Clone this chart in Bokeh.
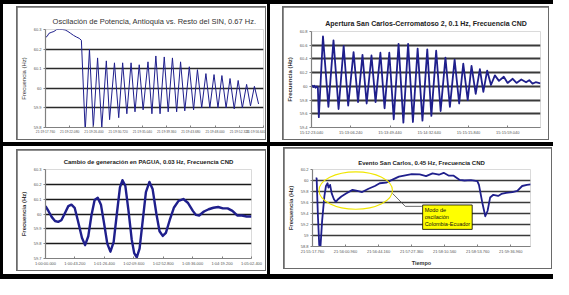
from bokeh.plotting import figure
from bokeh.layouts import row, column
from bokeh.models import Range1d, FixedTicker, Label, Spacer, AllLabels
from bokeh.embed import file_html
from bokeh.resources import INLINE

FONT = "Liberation Sans"
BLUE = "#1f1f8c"

# ---------------- Panel 1 ----------------
P1_TITLE = "Oscilación de Potencia, Antioquia vs. Resto del SIN, 0.67 Hz."
P1_T = [0, 0.3, 0.6, 1.0, 1.5, 2.0, 2.5, 3.0, 3.5, 4.0, 4.5, 5.0, 5.5, 6.0, 6.4,
        7.08, 7.84, 8.53, 9.29, 10.04, 10.85, 11.43, 12.30, 13.06, 13.76,
        14.51, 15.26, 15.96, 16.72, 17.41, 18.28, 18.98, 19.68, 20.43, 21.18,
        21.88, 22.64, 23.39, 24.09, 24.84, 25.65, 26.41, 27.10, 27.86, 28.61,
        29.31, 30.06, 30.76, 31.46, 32.21, 32.91, 33.66, 34.36, 35.11, 35.87,
        36.56, 37.26, 38.0]
P1_F = [60.26, 60.265, 60.28, 60.285, 60.29, 60.30, 60.30, 60.30, 60.298, 60.29, 60.28, 60.27, 60.262, 60.255, 60.245,
        59.78, 60.20, 59.80, 60.155, 59.80, 60.14, 59.84, 60.13, 59.85, 60.13,
        59.87, 60.13, 59.88, 60.12, 59.89, 60.135, 59.87, 60.165, 59.87, 60.16,
        59.88, 60.155, 59.88, 60.135, 59.885, 60.11, 59.89, 60.095, 59.9, 60.075,
        59.9, 60.07, 59.9, 60.065, 59.9, 60.05, 59.895, 60.04, 59.9, 60.02,
        59.91, 60.01, 59.92]
P1_XTICKS = [0, 4.32, 8.64, 12.96, 17.28, 21.6, 25.92, 30.24, 34.56, 38.88]
P1_XLABELS = ["21:19:17.760", "21:19:22.080", "21:19:26.400", "21:19:30.720", "21:19:35.040",
              "21:19:39.360", "21:19:43.680", "21:19:48.000", "21:19:52.320", "21:19:56.640"]
P1_YTICKS = [59.8, 59.9, 60.0, 60.1, 60.2, 60.3]
P1_YLABELS = ["59.8", "59.9", "60", "60.1", "60.2", "60.3"]

# ---------------- Panel 2 ----------------
P2_TITLE = "Apertura San Carlos-Cerromatoso 2, 0.1 Hz, Frecuencia CND"
P2_T = [0, 1.05, 2.1, 3.16, 4.56, 5.96, 7.0, 8.07, 12.63, 18.6, 24.2, 29.8, 35.4, 40.35,
        46.3, 51.2, 56.1, 60.7, 66.0, 70.5, 75.8, 80.4, 85.6, 90.5, 95.8, 101.1, 106.3,
        111.6, 116.8, 122.1, 127.4, 131.9, 137.2, 142.1, 147.4, 152.3, 157.5, 162.5,
        167.0, 171.9, 176.1, 180.7, 185.3, 189.1, 193.3, 197.5, 201.8, 206.3, 211.6,
        215.8, 221.4, 225.6, 230.9, 236.1, 239.6, 243.2, 246.7, 251.9]
P2_F = [60.0, 60.01, 59.99, 60.01, 59.98, 60.0, 59.98, 59.55, 60.73, 59.70, 60.67, 59.67, 60.59, 59.72,
        60.50, 59.77, 60.46, 59.75, 60.45, 59.77, 60.49, 59.68, 60.49, 59.52, 60.62, 59.47, 60.62,
        59.48, 60.55, 59.50, 60.54, 59.57, 60.52, 59.64, 60.42, 59.70, 60.39, 59.75,
        60.33, 59.80, 60.30, 59.89, 60.25, 59.92, 60.23, 60.02, 60.16, 60.08, 60.14,
        60.05, 60.11, 60.05, 60.10, 60.06, 60.09, 60.04, 60.06, 60.045]
P2_XTICKS = [0, 43.2, 86.4, 129.6, 172.8, 216.0]
P2_XLABELS = ["15:12:23.040", "15:13:06.240", "15:13:49.440", "15:14:32.640", "15:15:15.840", "15:15:59.040"]
P2_YTICKS = [59.4, 59.6, 59.8, 60.0, 60.2, 60.4, 60.6, 60.8]
P2_YLABELS = ["59.4", "59.6", "59.8", "60", "60.2", "60.4", "60.6", "60.8"]

# ---------------- Panel 3 ----------------
P3_TITLE = "Cambio de generación en PAGUA, 0.03 Hz, Frecuencia CND"
P3_T = [0, 4.65, 9.3, 14.0, 18.6, 23.3, 27.9, 33.5, 38.1, 42.8, 47.4, 53.5, 58.1, 62.8,
        67.4, 72.1, 76.7, 81.4, 86.0, 90.7, 95.3, 100.0, 104.7, 109.3, 113.0, 117.2,
        121.9, 126.5, 130.2, 134.0, 138.1, 142.8, 147.4, 152.6, 157.2, 162.8, 167.4,
        172.1, 176.7, 182.3, 188.4, 195.3, 202.3, 209.3, 216.3, 220.9, 225.6, 232.6,
        239.5, 246.5, 253.5, 260.5, 267.4, 274.4, 281.4, 288.4, 295.3, 302.3]
P3_F = [60.053, 60.017, 59.979, 59.953, 59.947, 59.958, 60.0, 60.053, 60.063, 60.042, 59.958, 59.84, 59.79, 59.85,
        59.99, 60.095, 60.11, 60.063, 59.937, 59.80, 59.746, 59.81, 60.0, 60.18, 60.228, 60.19,
        60.02, 59.83, 59.736, 59.708, 59.767, 59.958, 60.148, 60.216, 60.169, 60.0, 59.884,
        59.852, 59.873, 59.958, 60.042, 60.089, 60.101, 60.074, 60.021, 59.994, 59.99, 60.017,
        60.032, 60.042, 60.047, 60.038, 60.038, 60.021, 59.99, 59.99, 59.983, 59.983]
P3_XTICKS = [0, 43.2, 86.4, 129.6, 172.8, 216.0, 259.2, 302.4]
P3_XLABELS = ["1:00:00.000", "1:00:43.200", "1:01:26.400", "1:02:09.600", "1:02:52.800",
              "1:03:36.000", "1:04:19.200", "1:05:02.400"]
P3_YTICKS = [59.7, 59.8, 59.9, 60.0, 60.1, 60.2, 60.3]
P3_YLABELS = ["59.7", "59.8", "59.9", "60", "60.1", "60.2", "60.3"]

# ---------------- Panel 4 ----------------
P4_TITLE = "Evento San Carlos, 0.45 Hz, Frecuencia CND"
P4_T = [4.2, 5.4, 7.1, 8.8, 10.5, 12.6, 15.5, 17.6, 19.7, 20.9, 23.0, 25.1, 28.0, 30.5, 33.5,
        37.7, 43.9, 52.3, 58.6, 64.9, 73.2, 81.6, 87.9, 96.2, 104.6, 113.0, 121.3, 129.7,
        140.2, 148.5, 156.9, 165.3, 171.5, 177.8, 184.1, 192.5, 198.7, 207.1, 215.5, 217.6,
        221.8, 225.9, 228.9, 232.2, 236.4, 242.7, 246.9, 253.1, 261.5, 267.8, 274.1, 280.3, 285.4]
P4_F = [60.042, 60.04, 59.35, 58.825, 58.815, 59.27, 59.71, 59.90, 59.95, 59.87, 59.92, 59.765, 59.66, 59.61, 59.66,
        59.71, 59.765, 59.83, 59.81, 59.79, 59.85, 59.90, 59.95, 59.96, 60.015, 60.07, 60.095, 60.115,
        60.11, 60.08, 60.13, 60.105, 60.14, 60.09, 60.09, 60.01, 60.0, 60.005, 59.99, 59.92,
        59.61, 59.35, 59.45, 59.69, 59.74, 59.72, 59.755, 59.775, 59.79, 59.81, 59.90, 59.92, 59.93]
P4_XTICKS = [0, 43.2, 86.4, 129.6, 172.8, 216.0, 259.2]
P4_XLABELS = ["21:55:17.760", "21:56:00.960", "21:56:44.160", "21:57:27.360", "21:58:10.560",
              "21:58:53.760", "21:59:36.960"]
P4_YTICKS = [58.8, 59.0, 59.2, 59.4, 59.6, 59.8, 60.0, 60.2]
P4_YLABELS = ["58.8", "59", "59.2", "59.4", "59.6", "59.8", "60", "60.2"]
P4_XLABEL = "Tiempo"
# annotation (data units)
P4_ELLIPSE = dict(t=56.5, f=59.817, w=96.0, h=0.68)
P4_LEADER_T = [104.6, 121.3, 143.0]
P4_LEADER_F = [59.765, 59.53, 59.53]
P4_NOTE = "Modo de\noscilación\nColombia-Ecuador"
P4_NOTE_T, P4_NOTE_F = 144.0, 59.555

YLABEL = "Frecuencia (Hz)"


def make_panel(w, h, borders, xr, yr, xticks, xlabels, yticks, ylabels, title,
               title_bold, title_size, title_standoff, grid_color, grid_width,
               t, f, line_width, ylabel_bold, xlabel=None, xlabel_size="4px"):
    p = figure(width=w, height=h, x_range=Range1d(*xr), y_range=Range1d(*yr),
               output_backend="svg", toolbar_location=None,
               min_border_left=borders[0], min_border_right=borders[1],
               min_border_top=borders[2], min_border_bottom=borders[3],
               background_fill_color="white", border_fill_color="white",
               outline_line_color=None, margin=(1, 1, 1, 1))
    p.title.text = title
    p.title.align = "center"
    p.title.text_font = FONT
    p.title.text_font_size = title_size
    p.title.text_font_style = "bold" if title_bold else "normal"
    p.title.text_color = "#222222" if title_bold else "#333333"
    p.title.standoff = title_standoff

    p.xaxis.ticker = FixedTicker(ticks=xticks)
    p.xaxis.major_label_overrides = dict(zip(xticks, xlabels))
    p.yaxis.ticker = FixedTicker(ticks=yticks)
    p.yaxis.major_label_overrides = dict(zip(yticks, ylabels))
    for ax in (p.xaxis[0], p.yaxis[0]):
        ax.axis_line_color = "#808080"
        ax.axis_line_width = 1.2
        ax.major_tick_line_color = "#808080"
        ax.minor_tick_line_color = None
        ax.major_label_text_font = FONT
        ax.major_label_text_font_size = "4px"
        ax.major_label_text_color = "#555555"
        ax.major_label_standoff = 2
        ax.major_label_policy = AllLabels()
    p.xaxis.major_label_text_font_size = xlabel_size
    p.xaxis.major_tick_in = 2
    p.xaxis.major_tick_out = 0
    p.yaxis.major_tick_in = 0
    p.yaxis.major_tick_out = 2
    p.yaxis.axis_label = YLABEL
    p.yaxis.axis_label_text_font = FONT
    p.yaxis.axis_label_text_font_size = "6px"
    p.yaxis.axis_label_text_font_style = "bold" if ylabel_bold else "normal"
    p.yaxis.axis_label_text_color = "#333333"
    p.yaxis.axis_label_standoff = 4
    if xlabel:
        p.xaxis.axis_label = xlabel
        p.xaxis.axis_label_text_font = FONT
        p.xaxis.axis_label_text_font_size = "5.5px"
        p.xaxis.axis_label_text_font_style = "bold"
        p.xaxis.axis_label_text_color = "#333333"
        p.xaxis.axis_label_standoff = 3

    p.xgrid.grid_line_color = None
    p.ygrid.ticker = FixedTicker(ticks=yticks)
    p.ygrid.grid_line_color = grid_color
    p.ygrid.grid_line_width = grid_width

    p.line(t, f, line_color=BLUE, line_width=line_width, line_join="round")
    return p


p1 = make_panel(248, 132, (28, 2, 22, 12), (0, 38.88), (59.8, 60.3), P1_XTICKS, P1_XLABELS,
                P1_YTICKS, P1_YLABELS, P1_TITLE, False, "7.5px", 8, "#2a2a2a", 1.3,
                P1_T, P1_F, 1.0, False, xlabel_size="3.3px")
p2 = make_panel(265, 132, (24, 8, 24, 12), (0, 252), (59.4, 60.8), P2_XTICKS, P2_XLABELS,
                P2_YTICKS, P2_YLABELS, P2_TITLE, True, "7px", 10, "#3a3a3a", 1.8,
                P2_T, P2_F, 1.8, True)
p3 = make_panel(248, 120, (24, 14, 19, 12), (0, 302.4), (59.7, 60.3), P3_XTICKS, P3_XLABELS,
                P3_YTICKS, P3_YLABELS, P3_TITLE, True, "6px", 9, "#1a1a1a", 1.3,
                P3_T, P3_F, 2.4, True)
p4 = make_panel(267, 120, (26, 21, 21, 16), (0, 285), (58.8, 60.2), P4_XTICKS, P4_XLABELS,
                P4_YTICKS, P4_YLABELS, P4_TITLE, True, "6px", 7, "#3a3a3a", 1.4,
                P4_T, P4_F, 1.8, True, xlabel=P4_XLABEL)

p4.ellipse(x=P4_ELLIPSE["t"], y=P4_ELLIPSE["f"], width=P4_ELLIPSE["w"], height=P4_ELLIPSE["h"],
           fill_color=None, line_color="#f0e600", line_width=1.1)
p4.line(P4_LEADER_T, P4_LEADER_F, line_color="#444444", line_width=0.8)
p4.add_layout(Label(x=P4_NOTE_T, y=P4_NOTE_F, text=P4_NOTE, text_font=FONT,
                    text_font_size="5.5px", text_color="#111111", text_align="left",
                    text_baseline="top", background_fill_color="#ffff00",
                    border_line_color="#000000", border_line_width=0.8, padding=2))


def cell(fig, pad):
    framed = row(fig, styles={"background-color": "#6a6a6a"}, margin=pad)
    return row(framed, styles={"background-color": "white"})


def bar(w, h):
    return Spacer(width=w, height=h, styles={"background-color": "black"})


TOTAL_W = 553
top = row(bar(3, 138), cell(p1, (2, 1, 2, 13)), bar(3, 138), cell(p2, (2, 4, 2, 12)))
bottom = row(bar(3, 128), cell(p3, (3, 1, 3, 13)), bar(3, 128), cell(p4, (1, 1, 5, 13)))
root = column(bar(TOTAL_W, 4), top, bar(TOTAL_W, 4), bottom, bar(TOTAL_W, 5),
              styles={"background-color": "white"})

open("out.html", "w").write(file_html(root, INLINE))
